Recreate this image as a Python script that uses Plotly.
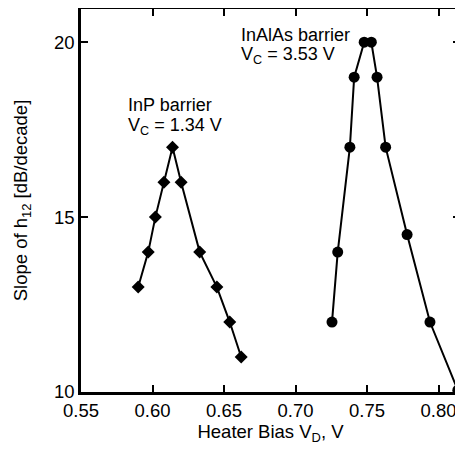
import plotly.graph_objects as go

# InP barrier (diamonds)
inp_x = [0.590, 0.597, 0.602, 0.608, 0.614, 0.620, 0.633, 0.645, 0.654, 0.662]
inp_y = [13.0, 14.0, 15.0, 16.0, 17.0, 16.0, 14.0, 13.0, 12.0, 11.0]

# InAlAs barrier (circles)
inalas_x = [0.7255, 0.7295, 0.738, 0.741, 0.748, 0.753, 0.757, 0.763, 0.778, 0.794, 0.8135]
inalas_y = [12.0, 14.0, 17.0, 19.0, 20.0, 20.0, 19.0, 17.0, 14.5, 12.0, 10.05]

x_ticks = [0.55, 0.60, 0.65, 0.70, 0.75, 0.80]
y_ticks = [10, 15, 20]

font = "Liberation Sans, Arial, Helvetica, sans-serif"

fig = go.Figure()
fig.add_trace(go.Scatter(x=inp_x, y=inp_y, mode='lines+markers',
                         line=dict(color='black', width=2),
                         marker=dict(symbol='diamond', size=10, color='black'),
                         showlegend=False))
fig.add_trace(go.Scatter(x=inalas_x, y=inalas_y, mode='lines+markers',
                         line=dict(color='black', width=2),
                         marker=dict(symbol='circle', size=11, color='black'),
                         showlegend=False))

# labels, one annotation per line
labels = [
    (0.582, 18.20, "InP barrier"),
    (0.582, 17.60, "V<sub>C</sub> = 1.34 V"),
    (0.661, 20.21, "InAlAs barrier"),
    (0.661, 19.61, "V<sub>C</sub> = 3.53 V"),
]
for lx, ly, txt in labels:
    fig.add_annotation(x=lx, y=ly, xref='x', yref='y', xanchor='left', yanchor='middle',
                       text=txt, showarrow=False, borderpad=0,
                       font=dict(family=font, size=18, color='black'))

axis_common = dict(showline=True, linecolor='black', linewidth=2.5, mirror='ticks',
                   ticks='inside', tickcolor='black', tickwidth=1.5, ticklen=7,
                   showgrid=False, zeroline=False, automargin=False,
                   tickfont=dict(family=font, size=18.5, color='black'))

fig.update_xaxes(range=[0.55, 0.815], tickvals=x_ticks, ticktext=[f"{v:.2f}" for v in x_ticks],
                 title=dict(text="Heater Bias V<sub>D</sub>, V",
                            font=dict(family=font, size=18.5, color='black'), standoff=3),
                 **axis_common)
fig.update_yaxes(range=[10, 20.95], tickvals=y_ticks,
                 title=dict(text="Slope of h<sub>12</sub> [dB/decade]",
                            font=dict(family=font, size=18.5, color='black'), standoff=22),
                 **axis_common)

# the page body adds an 8px margin, so the figure is sized to fit inside the window
fig.update_layout(width=455, height=442, plot_bgcolor='white', paper_bgcolor='white',
                  margin=dict(l=73, r=3, t=1, b=58), showlegend=False)

fig.write_html("out.html")
